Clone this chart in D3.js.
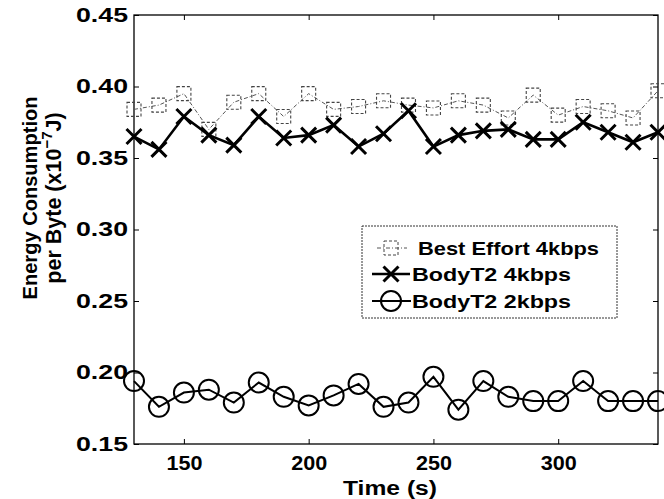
<!DOCTYPE html>
<html><head><meta charset="utf-8">
<script src="https://cdn.jsdelivr.net/npm/d3@7/dist/d3.min.js"></script>
<style>body{margin:0;background:#fff}svg{display:block}</style>
</head><body><svg id="c" width="664" height="499"></svg>
<script>
const times = [130,140,150,160,170,180,190,200,210,220,230,240,250,260,270,280,290,300,310,320,330,340];
const bestEffort4k = [0.384,0.387,0.395,0.370,0.389,0.395,0.379,0.395,0.384,0.386,0.390,0.387,0.385,0.390,0.387,0.378,0.394,0.380,0.386,0.383,0.378,0.397];
const bodyT2_4k = [0.365,0.356,0.379,0.366,0.359,0.379,0.364,0.366,0.373,0.358,0.367,0.383,0.358,0.366,0.369,0.370,0.363,0.363,0.375,0.368,0.361,0.368];
const bodyT2_2k = [0.194,0.176,0.186,0.188,0.179,0.193,0.183,0.177,0.184,0.192,0.176,0.179,0.197,0.174,0.194,0.183,0.180,0.180,0.194,0.180,0.180,0.180];
const xTicks = [150,200,250,300];
const yTicks = [0.15,0.20,0.25,0.30,0.35,0.40,0.45];
const seriesNames = ["Best Effort 4kbps","BodyT2 4kbps","BodyT2 2kbps"];

const L=134,R=658,T=15,B=444;
const svg=d3.select("#c");
const font='"Liberation Sans", Arial, Helvetica, sans-serif';
const x=d3.scaleLinear().domain([130,340]).range([L,R]);
const y=d3.scaleLinear().domain([0.15,0.45]).range([B,T]);

const axB=svg.append("g").attr("transform",`translate(0,${B})`)
  .call(d3.axisBottom(x).tickValues(xTicks).tickSize(-5).tickPadding(12).tickFormat(d3.format("d")));
const axL=svg.append("g").attr("transform",`translate(${L},0)`)
  .call(d3.axisLeft(y).tickValues(yTicks).tickSize(-5).tickPadding(6).tickFormat(d3.format(".2f")));
const axT=svg.append("g").attr("transform",`translate(0,${T})`)
  .call(d3.axisTop(x).tickValues(xTicks).tickSize(-5).tickFormat(""));
const axR=svg.append("g").attr("transform",`translate(${R},0)`)
  .call(d3.axisRight(y).tickValues(yTicks).tickSize(-5).tickFormat(""));
[axB,axL,axT,axR].forEach(a=>{a.select(".domain").remove();a.selectAll("line").attr("stroke","#000").attr("stroke-width",1);});
axB.selectAll("text").attr("font-family",font).attr("font-weight","bold").attr("font-size",20).attr("fill","#000")
  .attr("textLength",36).attr("lengthAdjust","spacingAndGlyphs");
axL.selectAll("text").attr("font-family",font).attr("font-weight","bold").attr("font-size",20).attr("fill","#000")
  .attr("textLength",52).attr("lengthAdjust","spacingAndGlyphs");
svg.append("rect").attr("x",L).attr("y",T).attr("width",R-L).attr("height",B-T)
  .attr("fill","none").attr("stroke","#000").attr("stroke-width",1.3);

const plot=svg.append("g");
const line=d3.line().x((d,i)=>x(times[i])).y(d=>y(d));

plot.append("path").datum(bestEffort4k).attr("d",line).attr("fill","none")
  .attr("stroke","#555").attr("stroke-width",1).attr("stroke-dasharray","4,2,1,2");
plot.selectAll(".sq").data(bestEffort4k).join("rect")
  .attr("x",(d,i)=>x(times[i])-7).attr("y",d=>y(d)-7).attr("width",14).attr("height",14)
  .attr("fill","none").attr("stroke","#444").attr("stroke-width",1.1).attr("stroke-dasharray","3,2");

plot.append("path").datum(bodyT2_4k).attr("d",line).attr("fill","none")
  .attr("stroke","#000").attr("stroke-width",2.6);
plot.selectAll(".xm").data(bodyT2_4k).join("path")
  .attr("d",(d,i)=>{const cx=x(times[i]),cy=y(d),s=7.5;return `M${cx-s},${cy-s}L${cx+s},${cy+s}M${cx-s},${cy+s}L${cx+s},${cy-s}`;})
  .attr("stroke","#000").attr("stroke-width",3);

plot.append("path").datum(bodyT2_2k).attr("d",line).attr("fill","none")
  .attr("stroke","#000").attr("stroke-width",2);
plot.selectAll(".cm").data(bodyT2_2k).join("circle")
  .attr("cx",(d,i)=>x(times[i])).attr("cy",d=>y(d)).attr("r",10)
  .attr("fill","none").attr("stroke","#000").attr("stroke-width",2);

// Legend
const lg=svg.append("g");
lg.append("rect").attr("x",362).attr("y",226).attr("width",255).attr("height",92)
  .attr("fill","#fff").attr("stroke","#333").attr("stroke-width",1).attr("stroke-dasharray","2,1");
const rows=[248,274,301];
const textX=[418,412,412], textW=[181,159,159];
seriesNames.forEach((name,k)=>{
  const ry=rows[k], mx=391;
  const g=lg.append("g");
  if(k===0){
    g.append("line").attr("x1",377).attr("x2",407).attr("y1",ry).attr("y2",ry).attr("stroke","#555").attr("stroke-width",1).attr("stroke-dasharray","4,2,1,2");
    g.append("rect").attr("x",mx-7).attr("y",ry-7).attr("width",14).attr("height",14).attr("fill","none").attr("stroke","#444").attr("stroke-dasharray","3,2");
  } else if(k===1){
    g.append("line").attr("x1",372).attr("x2",410).attr("y1",ry).attr("y2",ry).attr("stroke","#000").attr("stroke-width",2.6);
    const s=7.5;
    g.append("path").attr("d",`M${mx-s},${ry-s}L${mx+s},${ry+s}M${mx-s},${ry+s}L${mx+s},${ry-s}`).attr("stroke","#000").attr("stroke-width",3);
  } else {
    g.append("line").attr("x1",372).attr("x2",411).attr("y1",ry).attr("y2",ry).attr("stroke","#000").attr("stroke-width",2);
    g.append("circle").attr("cx",mx).attr("cy",ry).attr("r",10).attr("fill","none").attr("stroke","#000").attr("stroke-width",2);
  }
  g.append("text").attr("x",textX[k]).attr("y",ry+7).text(name)
    .attr("font-family",font).attr("font-weight","bold").attr("font-size",19).attr("fill","#000")
    .attr("textLength",textW[k]).attr("lengthAdjust","spacingAndGlyphs");
});

// Axis titles
svg.append("text").attr("x",390).attr("y",495).attr("text-anchor","middle")
  .attr("font-family",font).attr("font-weight","bold").attr("font-size",20)
  .attr("textLength",94).attr("lengthAdjust","spacingAndGlyphs").text("Time (s)");
const yc=198;
svg.append("text").attr("transform",`translate(37,${yc}) rotate(-90)`)
  .attr("text-anchor","middle").attr("font-family",font).attr("font-weight","bold").attr("font-size",21)
  .attr("textLength",203).attr("lengthAdjust","spacingAndGlyphs").text("Energy Consumption");
const yt2=svg.append("text").attr("transform",`translate(61,${yc}) rotate(-90)`)
  .attr("text-anchor","middle").attr("font-family",font).attr("font-weight","bold").attr("font-size",21.5);
yt2.append("tspan").text("per Byte (x10");
yt2.append("tspan").attr("dy",-9).attr("font-size",15).text("−7");
yt2.append("tspan").attr("dy",9).text("J)");
</script></body></html>
